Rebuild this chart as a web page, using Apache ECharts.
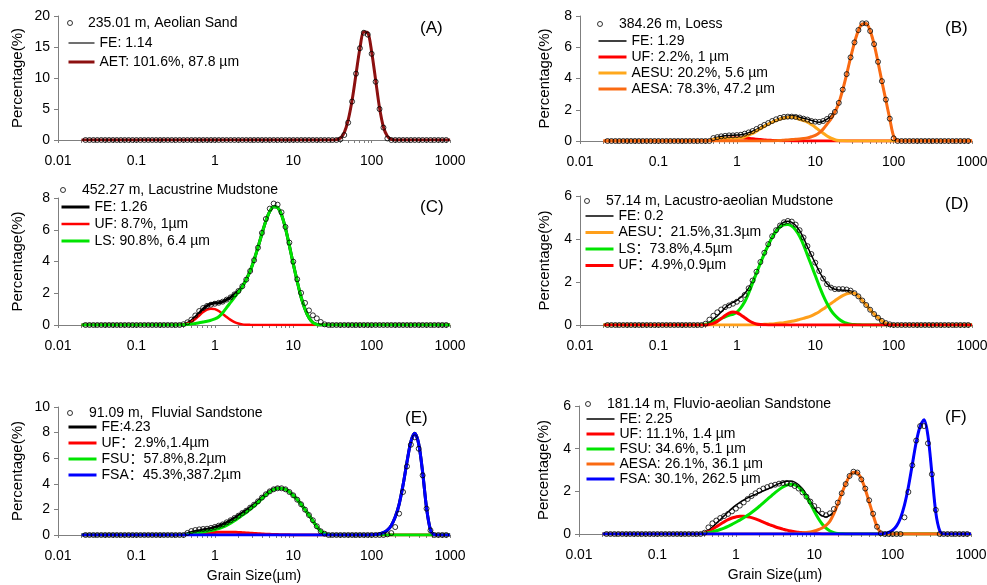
<!DOCTYPE html>
<html>
<head>
<meta charset="utf-8">
<script src="https://cdn.jsdelivr.net/npm/echarts@6/dist/echarts.min.js"></script>
<style>
  html, body { margin: 0; padding: 0; background: #fff; }
  #main { width: 987px; height: 585px; }
</style>
</head>
<body>
<div id="main"></div>
<script>
// grain size classes (µm), 20 per decade
const sizes = [
  0.02, 0.02244, 0.02518, 0.02825, 0.0317, 0.03557, 0.03991, 0.04477, 0.05024, 0.05637,
  0.06325, 0.07096, 0.07962, 0.08934, 0.1002, 0.1125, 0.1262, 0.1416, 0.1589, 0.1783,
  0.2, 0.2244, 0.2518, 0.2825, 0.317, 0.3557, 0.3991, 0.4477, 0.5024, 0.5637,
  0.6325, 0.7096, 0.7962, 0.8934, 1.002, 1.125, 1.262, 1.416, 1.589, 1.783,
  2, 2.244, 2.518, 2.825, 3.17, 3.557, 3.991, 4.477, 5.024, 5.637,
  6.325, 7.096, 7.962, 8.934, 10.02, 11.25, 12.62, 14.16, 15.89, 17.83,
  20, 22.44, 25.18, 28.25, 31.7, 35.57, 39.91, 44.77, 50.24, 56.37,
  63.25, 70.96, 79.62, 89.34, 100.2, 112.5, 126.2, 141.6, 158.9, 178.3,
  200, 224.4, 251.8, 282.5, 317, 355.7, 399.1, 447.7, 502.4, 563.7,
  632.5, 709.6, 796.2, 893.4, 1002
];

// tick marks along the log x axis
const xTicks = [
  0.01, 0.02, 0.03, 0.04, 0.05, 0.06, 0.07, 0.08, 0.09,
  0.1, 0.2, 0.3, 0.4, 0.5, 0.6, 0.7, 0.8, 0.9,
  1, 2, 3, 4, 5, 6, 7, 8, 9,
  10, 20, 30, 40, 50, 60, 70, 80, 90,
  100, 200, 300, 400, 500, 600, 700, 800, 900, 1000
];

// (A) aeolian sand
const measA = [
  '-', 0, 0, 0, 0, 0, 0, 0, 0, 0,
  0, 0, 0, 0, 0, 0, 0, 0, 0, 0,
  0, 0, 0, 0, 0, 0, 0, 0, 0, 0,
  0, 0, 0, 0, 0, 0, 0, 0, 0, 0,
  0, 0, 0, 0, 0, 0, 0, 0, 0, 0,
  0, 0, 0, 0, 0, 0, 0, 0, 0, 0,
  0, 0, 0, 0, 0, 0, 0.1, 0.8, 2.8, 6.2,
  10.7, 14.8, 17.3, 17.0, 13.9, 9.4, 5.0, 2.0, 0.25, 0,
  0, 0, 0, 0, 0, 0, 0, 0, 0, 0,
  0, 0, 0, 0, '-'
];
const aetA = [
  0, 0, 0, 0, 0, 0, 0, 0, 0, 0,
  0, 0, 0, 0, 0, 0, 0, 0, 0, 0,
  0, 0, 0, 0, 0, 0, 0, 0, 0, 0,
  0, 0, 0, 0, 0, 0, 0, 0, 0, 0,
  0, 0, 0, 0, 0, 0, 0, 0, 0, 0,
  0, 0, 0, 0, 0, 0, 0, 0, 0, 0,
  0, 0, 0, 0, 0, 0.05, 0.3, 1.2, 3.2, 6.4,
  10.6, 14.8, 17.4, 17.3, 14.2, 9.7, 5.2, 2.1, 0.6, 0.1,
  0, 0, 0, 0, 0, 0, 0, 0, 0, 0,
  0, 0, 0, 0, 0
];

// (B) loess
const measB = [
  '-', 0, 0, 0, 0, 0, 0, 0, 0, 0,
  0, 0, 0, 0, 0, 0, 0, 0, 0, 0,
  0, 0, 0, 0, 0, 0, 0, 0, 0.19, 0.25,
  0.3, 0.33, 0.36, 0.36, 0.38, 0.4, 0.47, 0.55, 0.64, 0.77,
  0.9, 1.03, 1.15, 1.28, 1.39, 1.48, 1.54, 1.56, 1.56, 1.54,
  1.5, 1.43, 1.37, 1.28, 1.24, 1.22, 1.28, 1.41, 1.6, 1.86,
  2.44, 3.29, 4.28, 5.35, 6.31, 7.1, 7.53, 7.53, 7.04, 6.2,
  5.07, 3.83, 2.65, 1.43, 0.17, 0, 0, 0, 0, 0,
  0, 0, 0, 0, 0, 0, 0, 0, 0, 0,
  0, 0, 0, 0, '-'
];
const feB = [
  0, 0, 0, 0, 0, 0, 0, 0, 0, 0,
  0, 0, 0, 0, 0, 0, 0, 0, 0, 0,
  0, 0, 0, 0, 0, 0, 0, 0.06, 0.17, 0.24,
  0.29, 0.33, 0.35, 0.37, 0.38, 0.4, 0.45, 0.53, 0.62, 0.74,
  0.87, 1.0, 1.12, 1.24, 1.36, 1.45, 1.53, 1.59, 1.62, 1.6,
  1.52, 1.46, 1.4, 1.32, 1.24, 1.2, 1.26, 1.4, 1.6, 1.93,
  2.45, 3.29, 4.27, 5.33, 6.3, 7.08, 7.5, 7.52, 7.05, 6.2,
  5.05, 3.8, 2.62, 1.42, 0.3, 0.02, 0, 0, 0, 0,
  0, 0, 0, 0, 0, 0, 0, 0, 0, 0,
  0, 0, 0, 0, 0
];
const ufB = [
  0, 0, 0, 0, 0, 0, 0, 0, 0, 0,
  0, 0, 0, 0, 0, 0, 0, 0, 0, 0,
  0, 0, 0, 0, 0, 0.01, 0.02, 0.04, 0.07, 0.1,
  0.13, 0.16, 0.18, 0.2, 0.2, 0.2, 0.18, 0.16, 0.14, 0.11,
  0.09, 0.07, 0.05, 0.04, 0.03, 0.02, 0.015, 0.01, 0.01, 0.005,
  0.005, 0.005, 0.004, 0.003, 0.002, 0.001, 0, 0, 0, 0,
  0, 0, 0, 0, 0, 0, 0, 0, 0, 0,
  0, 0, 0, 0, 0, 0, 0, 0, 0, 0,
  0, 0, 0, 0, 0, 0, 0, 0, 0, 0,
  0, 0, 0, 0, 0
];
const aesuB = [
  0, 0, 0, 0, 0, 0, 0, 0, 0, 0,
  0, 0, 0, 0, 0, 0, 0, 0, 0, 0,
  0, 0, 0, 0, 0, 0, 0, 0.02, 0.1, 0.14,
  0.16, 0.17, 0.17, 0.17, 0.18, 0.2, 0.27, 0.37, 0.48, 0.63,
  0.78, 0.93, 1.07, 1.2, 1.31, 1.4, 1.47, 1.51, 1.52, 1.48,
  1.38, 1.3, 1.2, 1.05, 0.88, 0.68, 0.5, 0.32, 0.18, 0.08,
  0.03, 0.01, 0, 0, 0, 0, 0, 0, 0, 0,
  0, 0, 0, 0, 0, 0, 0, 0, 0, 0,
  0, 0, 0, 0, 0, 0, 0, 0, 0, 0,
  0, 0, 0, 0, 0
];
const aesaB = [
  0, 0, 0, 0, 0, 0, 0, 0, 0, 0,
  0, 0, 0, 0, 0, 0, 0, 0, 0, 0,
  0, 0, 0, 0, 0, 0, 0, 0, 0, 0,
  0, 0, 0, 0, 0, 0, 0, 0, 0, 0,
  0, 0, 0, 0, 0.02, 0.03, 0.05, 0.07, 0.09, 0.11,
  0.13, 0.16, 0.2, 0.27, 0.36, 0.52, 0.76, 1.08, 1.42, 1.85,
  2.42, 3.28, 4.27, 5.33, 6.3, 7.08, 7.5, 7.52, 7.05, 6.2,
  5.05, 3.8, 2.62, 1.42, 0.3, 0.02, 0, 0, 0, 0,
  0, 0, 0, 0, 0, 0, 0, 0, 0, 0,
  0, 0, 0, 0, 0
];

// (C) lacustrine mudstone
const measC = [
  '-', 0, 0, 0, 0, 0, 0, 0, 0, 0,
  0, 0, 0, 0, 0, 0, 0, 0, 0, 0,
  0, 0, 0, 0, 0, 0, 0.05, 0.17, 0.34, 0.6,
  0.88, 1.07, 1.2, 1.28, 1.34, 1.4, 1.47, 1.6, 1.74, 1.93,
  2.14, 2.44, 2.86, 3.4, 4.08, 4.87, 5.8, 6.68, 7.33, 7.65,
  7.58, 7.1, 6.18, 5.19, 3.99, 2.88, 2.02, 1.39, 0.92, 0.61,
  0.42, 0.19, 0.04, 0, 0, 0, 0, 0, 0, 0,
  0, 0, 0, 0, 0, 0, 0, 0, 0, 0,
  0, 0, 0, 0, 0, 0, 0, 0, 0, 0,
  0, 0, 0, 0, '-'
];
const feC = [
  0, 0, 0, 0, 0, 0, 0, 0, 0, 0,
  0, 0, 0, 0, 0, 0, 0, 0, 0, 0,
  0, 0, 0, 0, 0, 0, 0.03, 0.11, 0.26, 0.48,
  0.74, 1.01, 1.21, 1.33, 1.38, 1.4, 1.47, 1.6, 1.74, 1.93,
  2.14, 2.44, 2.87, 3.41, 4.1, 4.9, 5.75, 6.55, 7.15, 7.45,
  7.4, 6.95, 6.1, 5.0, 3.85, 2.75, 1.75, 1.0, 0.45, 0.15,
  0.03, 0, 0, 0, 0, 0, 0, 0, 0, 0,
  0, 0, 0, 0, 0, 0, 0, 0, 0, 0,
  0, 0, 0, 0, 0, 0, 0, 0, 0, 0,
  0, 0, 0, 0, 0
];
const ufC = [
  0, 0, 0, 0, 0, 0, 0, 0, 0, 0,
  0, 0, 0, 0, 0, 0, 0, 0, 0, 0,
  0, 0, 0, 0, 0, 0, 0.02, 0.08, 0.2, 0.38,
  0.6, 0.82, 0.97, 1.03, 1.0, 0.88, 0.7, 0.5, 0.32, 0.18,
  0.09, 0.04, 0.02, 0.01, 0.005, 0, 0, 0, 0, 0,
  0, 0, 0, 0, 0, 0, 0, 0, 0, 0,
  0, 0, 0, 0, 0, 0, 0, 0, 0, 0,
  0, 0, 0, 0, 0, 0, 0, 0, 0, 0,
  0, 0, 0, 0, 0, 0, 0, 0, 0, 0,
  0, 0, 0, 0, 0
];
const lsC = [
  0, 0, 0, 0, 0, 0, 0, 0, 0, 0,
  0, 0, 0, 0, 0, 0, 0, 0, 0, 0,
  0, 0, 0, 0, 0, 0, 0.01, 0.03, 0.06, 0.1,
  0.14, 0.19, 0.24, 0.3, 0.38, 0.52, 0.77, 1.1, 1.42, 1.75,
  2.05, 2.4, 2.85, 3.4, 4.1, 4.9, 5.75, 6.55, 7.15, 7.45,
  7.4, 6.95, 6.1, 5.0, 3.85, 2.75, 1.75, 1.0, 0.45, 0.15,
  0.03, 0, 0, 0, 0, 0, 0, 0, 0, 0,
  0, 0, 0, 0, 0, 0, 0, 0, 0, 0,
  0, 0, 0, 0, 0, 0, 0, 0, 0, 0,
  0, 0, 0, 0, 0
];

// (D) lacustro-aeolian mudstone
const measD = [
  '-', 0, 0, 0, 0, 0, 0, 0, 0, 0,
  0, 0, 0, 0, 0, 0, 0, 0, 0, 0,
  0, 0, 0, 0, 0, 0, 0.06, 0.25, 0.43, 0.59,
  0.72, 0.83, 0.91, 0.99, 1.08, 1.2, 1.4, 1.71, 2.07, 2.48,
  2.93, 3.36, 3.76, 4.13, 4.41, 4.63, 4.78, 4.84, 4.81, 4.67,
  4.41, 4.07, 3.67, 3.3, 2.9, 2.51, 2.16, 1.9, 1.74, 1.67,
  1.67, 1.67, 1.65, 1.6, 1.48, 1.33, 1.14, 0.93, 0.71, 0.51,
  0.34, 0.19, 0.09, 0.03, 0, 0, 0, 0, 0, 0,
  0, 0, 0, 0, 0, 0, 0, 0, 0, 0,
  0, 0, 0, 0, '-'
];
const feD = [
  0, 0, 0, 0, 0, 0, 0, 0, 0, 0,
  0, 0, 0, 0, 0, 0, 0, 0, 0, 0,
  0, 0, 0, 0, 0, 0.01, 0.04, 0.12, 0.26, 0.42,
  0.6, 0.8, 0.95, 1.05, 1.15, 1.29, 1.47, 1.72, 2.07, 2.48,
  2.91, 3.35, 3.76, 4.13, 4.43, 4.65, 4.78, 4.82, 4.77, 4.63,
  4.39, 4.05, 3.64, 3.25, 2.87, 2.5, 2.18, 1.92, 1.75, 1.66,
  1.63, 1.62, 1.61, 1.58, 1.5, 1.34, 1.14, 0.93, 0.71, 0.51,
  0.34, 0.19, 0.09, 0.03, 0.01, 0, 0, 0, 0, 0,
  0, 0, 0, 0, 0, 0, 0, 0, 0, 0,
  0, 0, 0, 0, 0
];
const aesuD = [
  0, 0, 0, 0, 0, 0, 0, 0, 0, 0,
  0, 0, 0, 0, 0, 0, 0, 0, 0, 0,
  0, 0, 0, 0, 0, 0, 0, 0, 0, 0,
  0, 0, 0, 0, 0, 0, 0, 0, 0.01, 0.01,
  0.02, 0.03, 0.04, 0.05, 0.07, 0.09, 0.11, 0.14, 0.17, 0.21,
  0.26, 0.31, 0.36, 0.43, 0.52, 0.62, 0.74, 0.87, 1.0, 1.13,
  1.26, 1.37, 1.45, 1.49, 1.48, 1.33, 1.14, 0.93, 0.71, 0.51,
  0.34, 0.19, 0.09, 0.03, 0.01, 0, 0, 0, 0, 0,
  0, 0, 0, 0, 0, 0, 0, 0, 0, 0,
  0, 0, 0, 0, 0
];
const lsD = [
  0, 0, 0, 0, 0, 0, 0, 0, 0, 0,
  0, 0, 0, 0, 0, 0, 0, 0, 0, 0,
  0, 0, 0, 0, 0, 0.01, 0.03, 0.07, 0.15, 0.22,
  0.3, 0.38, 0.45, 0.5, 0.6, 0.8, 1.08, 1.48, 1.94, 2.41,
  2.87, 3.31, 3.71, 4.07, 4.35, 4.55, 4.66, 4.68, 4.6, 4.42,
  4.13, 3.73, 3.25, 2.78, 2.3, 1.82, 1.38, 1.0, 0.68, 0.45,
  0.28, 0.16, 0.08, 0.04, 0.02, 0.01, 0, 0, 0, 0,
  0, 0, 0, 0, 0, 0, 0, 0, 0, 0,
  0, 0, 0, 0, 0, 0, 0, 0, 0, 0,
  0, 0, 0, 0, 0
];
const ufD = [
  0, 0, 0, 0, 0, 0, 0, 0, 0, 0,
  0, 0, 0, 0, 0, 0, 0, 0, 0, 0,
  0, 0, 0, 0, 0, 0, 0, 0.03, 0.08, 0.17,
  0.3, 0.44, 0.55, 0.6, 0.57, 0.47, 0.34, 0.21, 0.11, 0.05,
  0.02, 0.01, 0, 0, 0, 0, 0, 0, 0, 0,
  0, 0, 0, 0, 0, 0, 0, 0, 0, 0,
  0, 0, 0, 0, 0, 0, 0, 0, 0, 0,
  0, 0, 0, 0, 0, 0, 0, 0, 0, 0,
  0, 0, 0, 0, 0, 0, 0, 0, 0, 0,
  0, 0, 0, 0, 0
];

// (E) fluvial sandstone
const measE = [
  '-', 0, 0, 0, 0, 0, 0, 0, 0, 0,
  0, 0, 0, 0, 0, 0, 0, 0, 0, 0,
  0, 0, 0, 0, 0, 0, 0, 0.16, 0.31, 0.39,
  0.44, 0.47, 0.49, 0.55, 0.63, 0.73, 0.83, 0.99, 1.15, 1.33,
  1.51, 1.72, 1.9, 2.14, 2.37, 2.63, 2.92, 3.18, 3.41, 3.57,
  3.65, 3.65, 3.57, 3.36, 3.1, 2.76, 2.4, 1.98, 1.56, 1.15,
  0.68, 0.29, 0.1, 0, 0, 0, 0, 0, 0, 0,
  0, 0, 0, 0, 0, 0, 0, 0, 0.05, 0.15,
  0.62, 1.67, 3.36, 5.36, 7.05, 7.63, 6.74, 4.66, 2.06, 0.36,
  0, 0, 0, 0, '-'
];
const feE = [
  0, 0, 0, 0, 0, 0, 0, 0, 0, 0,
  0, 0, 0, 0, 0, 0, 0, 0, 0, 0,
  0, 0, 0, 0, 0, 0.01, 0.03, 0.1, 0.2, 0.28,
  0.34, 0.4, 0.45, 0.52, 0.61, 0.71, 0.83, 0.97, 1.14, 1.32,
  1.52, 1.72, 1.91, 2.14, 2.37, 2.63, 2.92, 3.18, 3.42, 3.59,
  3.67, 3.66, 3.58, 3.37, 3.1, 2.77, 2.4, 1.98, 1.55, 1.1,
  0.65, 0.3, 0.1, 0.02, 0, 0, 0, 0, 0, 0,
  0, 0, 0, 0, 0.02, 0.04, 0.08, 0.18, 0.38, 0.75,
  1.4, 2.4, 3.9, 5.7, 7.3, 7.95, 7.1, 4.9, 2.1, 0.4,
  0.02, 0, 0, 0, 0
];
const ufE = [
  0, 0, 0, 0, 0, 0, 0, 0, 0, 0,
  0, 0, 0, 0, 0, 0, 0, 0, 0, 0,
  0, 0, 0, 0, 0, 0.01, 0.02, 0.04, 0.06, 0.09,
  0.11, 0.14, 0.16, 0.18, 0.2, 0.21, 0.22, 0.22, 0.22, 0.21,
  0.2, 0.18, 0.16, 0.14, 0.12, 0.1, 0.08, 0.06, 0.05, 0.04,
  0.03, 0.02, 0.015, 0.01, 0.005, 0, 0, 0, 0, 0,
  0, 0, 0, 0, 0, 0, 0, 0, 0, 0,
  0, 0, 0, 0, 0, 0, 0, 0, 0, 0,
  0, 0, 0, 0, 0, 0, 0, 0, 0, 0,
  0, 0, 0, 0, 0
];
const fsuE = [
  0, 0, 0, 0, 0, 0, 0, 0, 0, 0,
  0, 0, 0, 0, 0, 0, 0, 0, 0, 0,
  0, 0, 0, 0, 0, 0, 0.01, 0.04, 0.09, 0.14,
  0.19, 0.24, 0.29, 0.34, 0.41, 0.5, 0.61, 0.75, 0.92, 1.11,
  1.32, 1.54, 1.75, 2.0, 2.25, 2.53, 2.84, 3.12, 3.37, 3.55,
  3.64, 3.64, 3.56, 3.36, 3.1, 2.77, 2.4, 1.98, 1.55, 1.1,
  0.65, 0.3, 0.1, 0.02, 0, 0, 0, 0, 0, 0,
  0, 0, 0, 0, 0, 0, 0, 0, 0, 0,
  0, 0, 0, 0, 0, 0, 0, 0, 0, 0,
  0, 0, 0, 0, 0
];
const fsaE = [
  0, 0, 0, 0, 0, 0, 0, 0, 0, 0,
  0, 0, 0, 0, 0, 0, 0, 0, 0, 0,
  0, 0, 0, 0, 0, 0, 0, 0, 0, 0,
  0, 0, 0, 0, 0, 0, 0, 0, 0, 0,
  0, 0, 0, 0, 0, 0, 0, 0, 0, 0,
  0, 0, 0, 0, 0, 0, 0, 0, 0, 0,
  0, 0, 0, 0, 0, 0, 0, 0, 0, 0,
  0, 0, 0, 0, 0.02, 0.04, 0.08, 0.18, 0.38, 0.75,
  1.4, 2.4, 3.9, 5.7, 7.3, 7.95, 7.1, 4.9, 2.1, 0.4,
  0.02, 0, 0, 0, 0
];

// (F) fluvio-aeolian sandstone
const measF = [
  '-', 0, 0, 0, 0, 0, 0, 0, 0, 0,
  0, 0, 0, 0, 0, 0, 0, 0, 0, 0,
  0, 0, 0, 0, 0, 0, 0.06, 0.31, 0.5, 0.63,
  0.75, 0.84, 0.94, 1.06, 1.19, 1.33, 1.48, 1.64, 1.78, 1.91,
  2.03, 2.13, 2.2, 2.27, 2.31, 2.36, 2.39, 2.39, 2.34, 2.25,
  2.13, 1.95, 1.75, 1.52, 1.31, 1.13, 0.95, 0.88, 0.97, 1.17,
  1.47, 1.91, 2.34, 2.72, 2.92, 2.88, 2.56, 2.13, 1.58, 0.95,
  0.34, 0.03, 0, 0, 0, 0, 0, 0.78, 1.97, 3.22,
  4.38, 5.06, 5.06, 4.25, 2.8, 1.13, 0, 0, 0, 0,
  0, 0, 0, 0, '-'
];
const feF = [
  0, 0, 0, 0, 0, 0, 0, 0, 0, 0,
  0, 0, 0, 0, 0, 0, 0, 0, 0, 0,
  0, 0, 0, 0, 0, 0.02, 0.08, 0.18, 0.32, 0.49,
  0.67, 0.85, 1.03, 1.2, 1.35, 1.48, 1.59, 1.69, 1.78, 1.86,
  1.94, 2.02, 2.1, 2.18, 2.28, 2.36, 2.43, 2.47, 2.48, 2.43,
  2.31, 2.12, 1.85, 1.55, 1.23, 1.0, 0.85, 0.8, 0.88, 1.03,
  1.42, 1.91, 2.35, 2.72, 2.9, 2.87, 2.58, 2.1, 1.5, 0.9,
  0.35, 0.06, 0.03, 0.08, 0.18, 0.38, 0.75, 1.35, 2.2, 3.25,
  4.3, 5.05, 5.35, 4.6, 2.85, 1.0, 0.15, 0, 0, 0,
  0, 0, 0, 0, 0
];
const ufF = [
  0, 0, 0, 0, 0, 0, 0, 0, 0, 0,
  0, 0, 0, 0, 0, 0, 0, 0, 0, 0,
  0, 0, 0, 0, 0, 0.01, 0.05, 0.12, 0.22, 0.34,
  0.46, 0.57, 0.67, 0.75, 0.8, 0.83, 0.83, 0.81, 0.77, 0.71,
  0.64, 0.56, 0.48, 0.41, 0.34, 0.28, 0.23, 0.18, 0.14, 0.11,
  0.08, 0.06, 0.04, 0.03, 0.02, 0.01, 0, 0, 0, 0,
  0, 0, 0, 0, 0, 0, 0, 0, 0, 0,
  0, 0, 0, 0, 0, 0, 0, 0, 0, 0,
  0, 0, 0, 0, 0, 0, 0, 0, 0, 0,
  0, 0, 0, 0, 0
];
const fsuF = [
  0, 0, 0, 0, 0, 0, 0, 0, 0, 0,
  0, 0, 0, 0, 0, 0, 0, 0, 0, 0,
  0, 0, 0, 0, 0, 0.01, 0.03, 0.06, 0.1, 0.15,
  0.21, 0.28, 0.36, 0.45, 0.55, 0.65, 0.76, 0.88, 1.01, 1.15,
  1.3, 1.46, 1.62, 1.78, 1.94, 2.08, 2.2, 2.29, 2.33, 2.3,
  2.2, 2.01, 1.74, 1.42, 1.07, 0.74, 0.47, 0.27, 0.14, 0.06,
  0.02, 0.01, 0, 0, 0, 0, 0, 0, 0, 0,
  0, 0, 0, 0, 0, 0, 0, 0, 0, 0,
  0, 0, 0, 0, 0, 0, 0, 0, 0, 0,
  0, 0, 0, 0, 0
];
const aesaF = [
  0, 0, 0, 0, 0, 0, 0, 0, 0, 0,
  0, 0, 0, 0, 0, 0, 0, 0, 0, 0,
  0, 0, 0, 0, 0, 0, 0, 0, 0, 0,
  0, 0, 0, 0, 0, 0, 0, 0, 0, 0,
  0, 0, 0, 0, 0, 0, 0, 0, 0.01, 0.02,
  0.03, 0.05, 0.07, 0.1, 0.14, 0.2, 0.28, 0.4, 0.6, 0.95,
  1.4, 1.9, 2.35, 2.72, 2.9, 2.87, 2.58, 2.1, 1.5, 0.9,
  0.35, 0.06, 0, 0, 0, 0, 0, 0, 0, 0,
  0, 0, 0, 0, 0, 0, 0, 0, 0, 0,
  0, 0, 0, 0, 0
];
const fsaF = [
  0, 0, 0, 0, 0, 0, 0, 0, 0, 0,
  0, 0, 0, 0, 0, 0, 0, 0, 0, 0,
  0, 0, 0, 0, 0, 0, 0, 0, 0, 0,
  0, 0, 0, 0, 0, 0, 0, 0, 0, 0,
  0, 0, 0, 0, 0, 0, 0, 0, 0, 0,
  0, 0, 0, 0, 0, 0, 0, 0, 0, 0,
  0, 0, 0, 0, 0, 0, 0, 0, 0, 0,
  0, 0, 0.03, 0.08, 0.18, 0.38, 0.75, 1.35, 2.2, 3.25,
  4.3, 5.05, 5.35, 4.6, 2.85, 1.0, 0.15, 0, 0, 0,
  0, 0, 0, 0, 0
];

var FONT = '"Liberation Sans", Arial, "Noto Sans CJK SC", sans-serif';
var RED = '#ff0000', GREEN = '#00e400', BLUE = '#0000ff';

// one entry per sub-plot: layout + which arrays to draw
var panels = [
  { tag: '(A)', tagPos: [420, 20], box: [58, 16, 392, 124], yMax: 20, yStep: 5, nameGap: 33,
    legLeft: 67, legW: 26, measTop: 16, lineTop: 36, gap: 5,
    meas: ['235.01 m, Aeolian Sand', measA],
    lines: [['FE: 1.14', aetA, '#404040', 1.5],
            ['AET: 101.6%, 87.8 µm', aetA, '#8c1010', 3]] },
  { tag: '(B)', tagPos: [945, 20], box: [580, 16, 392, 125], yMax: 8, yStep: 2, nameGap: 28,
    legLeft: 597, legW: 28, measTop: 17, lineTop: 34, gap: 2,
    meas: ['384.26 m, Loess', measB],
    lines: [['FE: 1.29', feB, '#000', 1.5],
            ['UF: 2.2%, 1 µm', ufB, RED, 3],
            ['AESU: 20.2%, 5.6 µm', aesuB, '#ffa81c', 3],
            ['AESA: 78.3%, 47.2 µm', aesaB, '#fa6a12', 3]] },
  { tag: '(C)', tagPos: [420, 199], box: [58, 198, 392, 127], yMax: 8, yStep: 2, nameGap: 33,
    legLeft: 60, legW: 28, measTop: 183, lineTop: 200, gap: 3,
    meas: ['452.27 m, Lacustrine Mudstone', measC],
    lines: [['FE: 1.26', feC, '#000', 3],
            ['UF: 8.7%, 1µm', ufC, RED, 2.5],
            ['LS: 90.8%, 6.4 µm', lsC, GREEN, 3]] },
  { tag: '(D)', tagPos: [945, 196], box: [580, 196, 392, 129], yMax: 6, yStep: 2, nameGap: 28,
    legLeft: 584, legW: 28, measTop: 194, lineTop: 209, gap: 2.5,
    meas: ['57.14 m, Lacustro-aeolian Mudstone', measD],
    lines: [['FE: 0.2', feD, '#000', 1.5],
            ['AESU：21.5%,31.3µm', aesuD, '#ff9f1a', 3],
            ['LS：73.8%,4.5µm', lsD, GREEN, 3],
            ['UF：4.9%,0.9µm', ufD, RED, 3]] },
  { tag: '(E)', tagPos: [405, 410], box: [58, 407, 392, 128], yMax: 10, yStep: 2, nameGap: 33,
    legLeft: 67, legW: 28, measTop: 406, lineTop: 420, gap: 2, xName: 'Grain Size(µm)',
    meas: ['91.09 m,  Fluvial Sandstone', measE],
    lines: [['FE:4.23', feE, '#000', 3],
            ['UF：2.9%,1.4µm', ufE, RED, 3],
            ['FSU：57.8%,8.2µm', fsuE, GREEN, 3],
            ['FSA：45.3%,387.2µm', fsaE, BLUE, 3]] },
  { tag: '(F)', tagPos: [945, 409], box: [579, 406, 392, 128], yMax: 6, yStep: 2, nameGap: 28,
    legLeft: 585, legW: 28, measTop: 397, lineTop: 412, gap: 1, xName: 'Grain Size(µm)',
    meas: ['181.14 m, Fluvio-aeolian Sandstone', measF],
    lines: [['FE: 2.25', feF, '#000', 1.5],
            ['UF: 11.1%, 1.4 µm', ufF, RED, 3],
            ['FSU: 34.6%, 5.1 µm', fsuF, GREEN, 3],
            ['AESA: 26.1%, 36.1 µm', aesaF, '#fa6a12', 3],
            ['FSA: 30.1%, 262.5 µm', fsaF, BLUE, 3]] }
];

// pair each value with its size class, skipping empty bins
function pairs(arr) {
  var out = [];
  for (var k = 0; k < sizes.length; k++) {
    if (arr[k] !== '-' && arr[k] !== undefined) out.push([sizes[k], arr[k]]);
  }
  return out;
}

var axisGray = '#7f7f7f';
var txt = { color: '#000', fontSize: 14, fontFamily: FONT };

var option = {
  animation: false,
  backgroundColor: '#fff',
  textStyle: { fontFamily: FONT },
  title: [], grid: [], xAxis: [], yAxis: [], legend: [], series: []
};

panels.forEach(function (p, i) {
  option.grid.push({
    left: p.box[0], top: p.box[1], width: p.box[2], height: p.box[3],
    containLabel: false, outerBoundsMode: 'none'
  });
  option.title.push({
    text: p.tag, left: p.tagPos[0], top: p.tagPos[1], padding: 0,
    textStyle: { fontSize: 17, fontWeight: 'normal', color: '#000', fontFamily: FONT }
  });
  option.xAxis.push({
    type: 'log', logBase: 10, min: 0.01, max: 1000, gridIndex: i,
    axisLine: { lineStyle: { color: axisGray, width: 1 } },
    axisTick: { show: true, inside: false, length: 3, customValues: xTicks,
                lineStyle: { color: axisGray } },
    splitLine: { show: false },
    axisLabel: Object.assign({ margin: 14, formatter: function (v) { return String(+v.toPrecision(4)); } }, txt),
    name: p.xName || '', nameLocation: 'middle', nameGap: 34,
    nameTextStyle: txt
  });
  option.yAxis.push({
    type: 'value', gridIndex: i, min: 0, max: p.yMax, interval: p.yStep,
    axisLine: { show: true, lineStyle: { color: axisGray, width: 1 } },
    axisTick: { show: true, length: 4, lineStyle: { color: axisGray } },
    splitLine: { show: false },
    axisLabel: Object.assign({ margin: 8 }, txt),
    name: 'Percentage(%)', nameLocation: 'middle', nameGap: p.nameGap,
    nameTextStyle: { color: '#000', fontSize: 15, fontFamily: FONT }
  });

  // fitted curves
  var legendItems = [];
  p.lines.forEach(function (l) {
    legendItems.push({ name: l[0], lineStyle: { width: l[3] } });
    option.series.push({
      type: 'line', name: l[0], xAxisIndex: i, yAxisIndex: i,
      data: pairs(l[1]), symbol: 'none', smooth: 0.3, z: 2,
      lineStyle: { color: l[2], width: l[3] }, itemStyle: { color: l[2] }
    });
  });
  // measured distribution (open circles)
  option.series.push({
    type: 'scatter', name: p.meas[0], xAxisIndex: i, yAxisIndex: i,
    data: pairs(p.meas[1]), symbol: 'circle', symbolSize: 5, z: 3,
    itemStyle: { color: 'rgba(0,0,0,0)', borderColor: '#000', borderWidth: 1 }
  });

  option.legend.push({
    data: [p.meas[0]], orient: 'vertical', left: p.legLeft, top: p.measTop,
    itemWidth: p.legW, itemHeight: 5, padding: 0, selectedMode: false,
    itemStyle: { color: 'rgba(0,0,0,0)', borderColor: '#000', borderWidth: 1 },
    textStyle: txt
  });
  option.legend.push({
    data: legendItems, orient: 'vertical', left: p.legLeft, top: p.lineTop,
    itemWidth: p.legW, itemHeight: 14, itemGap: p.gap, padding: 0, selectedMode: false,
    itemStyle: { opacity: 0 },
    textStyle: txt
  });
});

var chart = echarts.init(document.getElementById('main'));
chart.setOption(option);
</script>
</body>
</html>
